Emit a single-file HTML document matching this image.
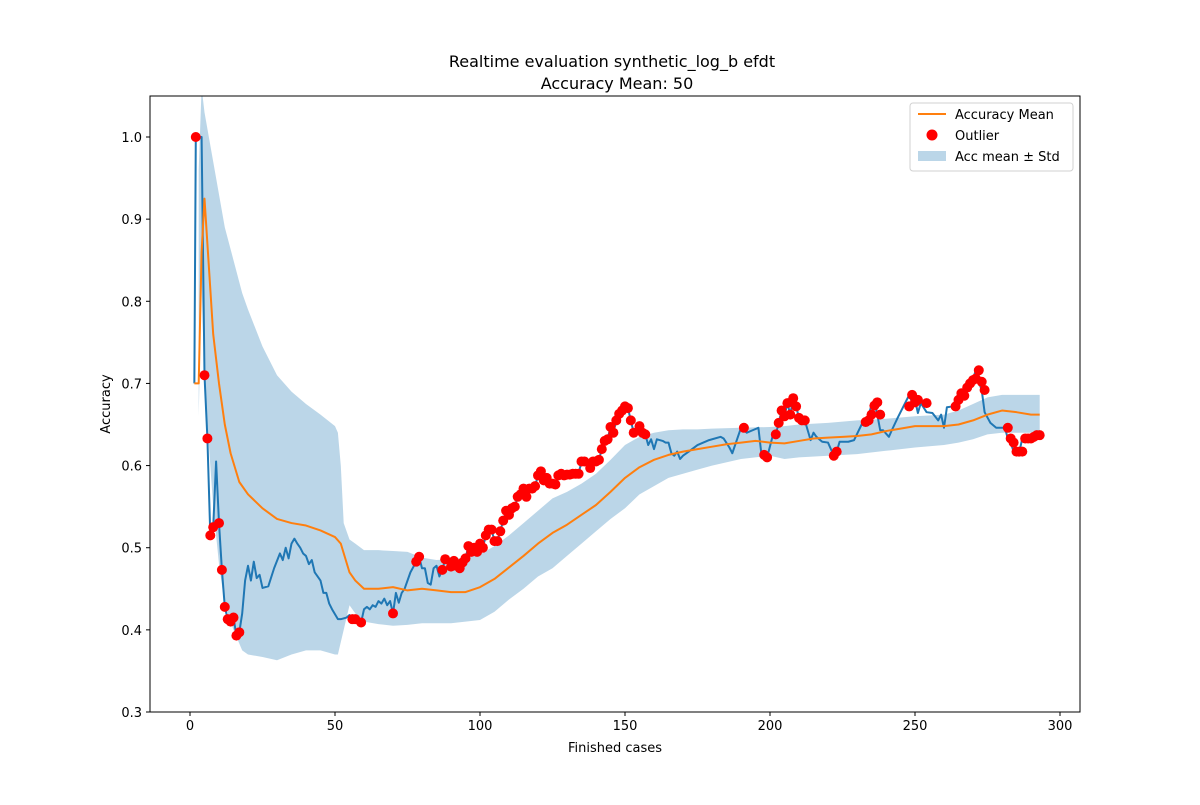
<!DOCTYPE html>
<html><head><meta charset="utf-8"><style>
body{margin:0;background:#fff;font-family:"Liberation Sans","DejaVu Sans",sans-serif}
svg text{font-family:"DejaVu Sans","Liberation Sans",sans-serif}
</style></head><body>
<svg id="chart" width="1200" height="800" xmlns="http://www.w3.org/2000/svg">
<rect width="1200" height="800" fill="#fff"/>
<text x="612" y="67" font-size="16" text-anchor="middle">Realtime evaluation synthetic_log_b efdt</text>
<text x="617" y="89" font-size="16" text-anchor="middle">Accuracy Mean: 50</text>
<g id="plot"></g>
<text x="615" y="752" font-size="13" text-anchor="middle">Finished cases</text>
<text x="110" y="404" font-size="13" text-anchor="middle" transform="rotate(-90 110 404)">Accuracy</text>
<g>
<rect x="910" y="103" width="163" height="68" rx="3" fill="#fff" stroke="#ccc" stroke-opacity="0.9"/>
<line x1="918" y1="114" x2="946" y2="114" stroke="#ff7f0e" stroke-width="2"/>
<text x="955" y="119" font-size="13">Accuracy Mean</text>
<circle cx="932" cy="135" r="5.5" fill="#ff0000"/>
<text x="955" y="140" font-size="13">Outlier</text>
<rect x="918" y="151" width="28" height="10" fill="#1f77b4" fill-opacity="0.3"/>
<text x="955" y="161" font-size="13">Acc mean ± Std</text>
</g>
</svg>
<script>
const accX=[1.5,2,3,4,5,6,7,8,9,10,11,12,13,14,15,16,17,18,19,20,21,22,23,24,25,27,29,31,32,33,34,35,36,37,38,39,40,41,42,43,45,46,47,48,49,51,52,54,55,56,57,58,59,60,61,62,63,64,65,66,67,68,69,70,71,72,73,74,76,78,79,80,81,82,83,84,85,86,87,88,89,90,91,92,93,94,95,96,97,98,99,100,101,102,103,104,105,106,107,108,109,110,111,112,113,114,115,116,117,118,119,120,121,122,123,124,125,126,127,128,129,130,131,132,133,134,135,136,138,139,140,141,142,143,144,145,146,147,148,149,150,151,152,153,154,155,156,157,158,159,160,161,163,164,165,166,167,168,169,170,172,175,179,183,184,186,187,190,192,194,196,197,198,199,201,202,203,204,205,206,207,208,209,210,211,212,214,215,216,218,220,221,222,223,224,227,229,232,233,234,235,236,237,238,239,241,242,244,246,248,249,250,251,252,254,256,258,259,260,261,263,264,265,266,267,268,269,270,271,272,273,274,276,278,281,282,283,284,285,286,287,288,289,290,291,292,293];
const accY=[0.70,1.0,1.0,1.0,0.71,0.633,0.515,0.525,0.605,0.53,0.473,0.428,0.413,0.41,0.415,0.393,0.397,0.42,0.46,0.478,0.46,0.483,0.463,0.467,0.451,0.453,0.475,0.493,0.485,0.50,0.487,0.505,0.511,0.505,0.50,0.493,0.49,0.48,0.485,0.47,0.46,0.445,0.445,0.432,0.425,0.413,0.413,0.415,0.418,0.413,0.413,0.412,0.409,0.425,0.428,0.425,0.43,0.428,0.435,0.432,0.438,0.43,0.435,0.42,0.445,0.433,0.445,0.45,0.47,0.483,0.489,0.475,0.475,0.457,0.455,0.475,0.478,0.465,0.473,0.486,0.485,0.477,0.484,0.478,0.475,0.482,0.487,0.502,0.495,0.5,0.495,0.505,0.5,0.515,0.522,0.522,0.508,0.508,0.52,0.533,0.545,0.54,0.548,0.55,0.562,0.565,0.572,0.562,0.572,0.572,0.575,0.588,0.593,0.582,0.585,0.578,0.578,0.577,0.588,0.59,0.588,0.589,0.589,0.59,0.59,0.59,0.605,0.605,0.597,0.605,0.605,0.607,0.62,0.63,0.632,0.647,0.64,0.655,0.663,0.667,0.672,0.67,0.655,0.64,0.64,0.648,0.64,0.638,0.625,0.632,0.62,0.632,0.63,0.628,0.628,0.615,0.612,0.617,0.608,0.612,0.617,0.625,0.631,0.635,0.633,0.622,0.615,0.646,0.64,0.643,0.646,0.615,0.613,0.61,0.637,0.638,0.652,0.667,0.66,0.676,0.662,0.682,0.672,0.658,0.655,0.655,0.631,0.64,0.635,0.629,0.628,0.62,0.612,0.617,0.629,0.629,0.631,0.653,0.655,0.662,0.673,0.677,0.662,0.643,0.643,0.635,0.643,0.658,0.672,0.686,0.677,0.68,0.664,0.676,0.665,0.664,0.655,0.662,0.646,0.671,0.672,0.68,0.688,0.685,0.695,0.70,0.704,0.706,0.716,0.702,0.692,0.665,0.652,0.646,0.646,0.633,0.628,0.617,0.617,0.617,0.633,0.633,0.633,0.635,0.637,0.637];
const meanX=[1.5,3,4,5,6,8,10,12,14,17,20,25,30,35,40,45,50,52,55,57,60,65,70,75,80,85,90,95,100,105,110,115,120,125,130,135,140,145,150,155,160,165,170,175,180,185,190,195,200,205,210,215,220,225,230,235,240,245,250,255,260,265,270,275,280,285,290,293];
const meanY=[0.70,0.70,0.86,0.925,0.87,0.76,0.70,0.65,0.615,0.58,0.565,0.548,0.535,0.530,0.527,0.521,0.513,0.505,0.47,0.46,0.45,0.45,0.452,0.448,0.45,0.448,0.446,0.446,0.452,0.462,0.476,0.49,0.505,0.518,0.528,0.54,0.552,0.568,0.585,0.598,0.607,0.613,0.617,0.62,0.623,0.626,0.628,0.63,0.628,0.627,0.63,0.633,0.634,0.635,0.636,0.638,0.642,0.645,0.648,0.648,0.648,0.65,0.655,0.662,0.667,0.665,0.662,0.662];
const bandX=[3,4,5,8,10,12,15,18,20,25,30,35,40,45,50,51,52,53,55,57,60,65,70,75,80,85,90,95,100,105,110,115,120,125,130,135,140,145,150,155,160,165,170,175,180,190,200,205,210,220,230,240,250,260,265,270,275,280,290,293];
const bandUp=[0.96,1.06,1.03,0.97,0.93,0.89,0.85,0.81,0.79,0.745,0.71,0.69,0.675,0.662,0.648,0.64,0.60,0.53,0.51,0.505,0.497,0.497,0.496,0.495,0.488,0.485,0.486,0.488,0.492,0.502,0.515,0.53,0.545,0.56,0.568,0.578,0.59,0.607,0.625,0.635,0.64,0.643,0.644,0.644,0.645,0.646,0.647,0.648,0.65,0.652,0.655,0.657,0.66,0.662,0.667,0.675,0.683,0.686,0.686,0.686];
const bandLo=[0.66,0.82,0.70,0.55,0.48,0.43,0.40,0.375,0.37,0.367,0.363,0.37,0.375,0.375,0.37,0.37,0.385,0.40,0.43,0.42,0.41,0.407,0.405,0.406,0.408,0.408,0.408,0.41,0.412,0.422,0.437,0.45,0.465,0.475,0.49,0.505,0.52,0.535,0.548,0.565,0.575,0.585,0.59,0.595,0.60,0.608,0.612,0.608,0.61,0.612,0.614,0.618,0.622,0.625,0.628,0.632,0.638,0.64,0.64,0.64];
const outX=[2,5,6,7,8,10,11,12,13,14,15,16,17,56,57,59,70,78,79,87,88,90,91,92,93,94,95,96,97,98,99,100,101,102,103,104,105,106,107,108,109,110,111,112,113,114,115,116,117,118,119,120,121,122,123,124,125,126,127,128,129,130,131,132,133,134,135,136,138,139,140,141,142,143,144,145,146,147,148,149,150,151,152,153,155,156,157,191,198,199,202,203,204,205,206,207,208,209,210,211,212,222,223,233,234,235,236,237,238,248,249,250,251,254,264,265,266,267,268,269,270,271,272,273,274,282,283,284,285,286,287,288,289,290,291,292,293];
const outY=[1.0,0.71,0.633,0.515,0.525,0.53,0.473,0.428,0.413,0.41,0.415,0.393,0.397,0.413,0.413,0.409,0.42,0.483,0.489,0.473,0.486,0.477,0.484,0.478,0.475,0.482,0.487,0.502,0.495,0.5,0.495,0.505,0.5,0.515,0.522,0.522,0.508,0.508,0.52,0.533,0.545,0.54,0.548,0.55,0.562,0.565,0.572,0.562,0.572,0.572,0.575,0.588,0.593,0.582,0.585,0.578,0.578,0.577,0.588,0.59,0.588,0.589,0.589,0.59,0.59,0.59,0.605,0.605,0.597,0.605,0.605,0.607,0.62,0.63,0.632,0.647,0.64,0.655,0.663,0.667,0.672,0.67,0.655,0.64,0.648,0.64,0.638,0.646,0.613,0.61,0.638,0.652,0.667,0.66,0.676,0.662,0.682,0.672,0.658,0.655,0.655,0.612,0.617,0.653,0.655,0.662,0.673,0.677,0.662,0.672,0.686,0.677,0.68,0.676,0.672,0.68,0.688,0.685,0.695,0.70,0.704,0.706,0.716,0.702,0.692,0.646,0.633,0.628,0.617,0.617,0.617,0.633,0.633,0.633,0.635,0.637,0.637];
const xTicks=[0,50,100,150,200,250,300];
const yTicks=[0.3,0.4,0.5,0.6,0.7,0.8,0.9,1.0];

const L=150,R=1080,T=96,B=712;
const sx=v=>190+v*2.9;
const sy=v=>712-(v-0.3)*821.43;
const NS='http://www.w3.org/2000/svg';
const g=document.getElementById('plot');
function mk(t,a,p){const e=document.createElementNS(NS,t);for(const k in a)e.setAttribute(k,a[k]);(p||g).appendChild(e);return e;}
const clip=mk('clipPath',{id:'cp'});mk('rect',{x:L,y:T,width:R-L,height:B-T},clip);
const inner=mk('g',{'clip-path':'url(#cp)'});
let d='';bandX.forEach((x,i)=>{d+=(i?'L':'M')+sx(x)+','+sy(bandUp[i]);});
for(let i=bandX.length-1;i>=0;i--)d+='L'+sx(bandX[i])+','+sy(bandLo[i]);
const band=mk('path',{d:d+'Z',fill:'#1f77b4','fill-opacity':0.3},inner);


const acc=mk('polyline',{points:accX.map((x,i)=>sx(x)+','+sy(accY[i])).join(' '),fill:'none',stroke:'#1f77b4','stroke-width':2,'stroke-linejoin':'round'},inner);


const mean=mk('polyline',{points:meanX.map((x,i)=>sx(x)+','+sy(meanY[i])).join(' '),fill:'none',stroke:'#ff7f0e','stroke-width':2,'stroke-linejoin':'round'},inner);


outX.forEach((x,i)=>{const c=mk('circle',{cx:sx(x),cy:sy(outY[i]),r:5,fill:'#ff0000'},inner);

});
const frame=mk('rect',{x:L,y:T,width:R-L,height:B-T,fill:'none',stroke:'#000','stroke-width':1});


xTicks.forEach(v=>{const x=sx(v);mk('line',{x1:x,y1:B,x2:x,y2:B+4,stroke:'#000'});
const t=mk('text',{x:x,y:B+18,'font-size':13,'text-anchor':'middle'});t.textContent=v;

});
yTicks.forEach(v=>{const y=sy(v);mk('line',{x1:L-4,y1:y,x2:L,y2:y,stroke:'#000'});
const t=mk('text',{x:L-8,y:y+5,'font-size':13,'text-anchor':'end'});t.textContent=v.toFixed(1);

});
</script>
</body></html>
